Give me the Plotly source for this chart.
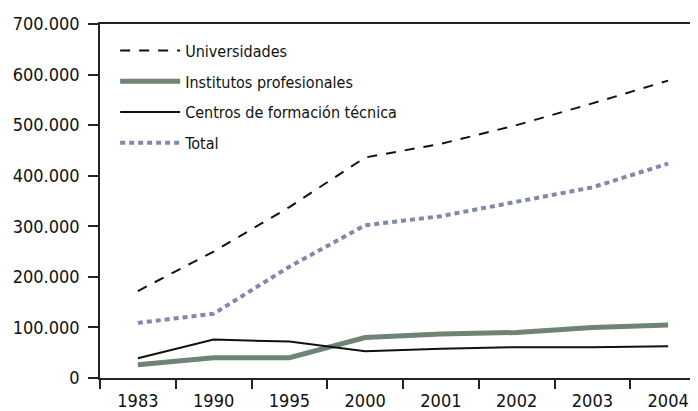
import plotly.graph_objects as go

years = ["1983", "1990", "1995", "2000", "2001", "2002", "2003", "2004"]
universidades = [172000, 250000, 338000, 436000, 463000, 500000, 543000, 588000]
institutos = [26000, 40000, 40000, 80000, 87000, 90000, 100000, 105000]
centros = [39000, 76000, 72000, 53000, 58000, 61000, 61000, 63000]
total = [109000, 127000, 220000, 302000, 320000, 348000, 377000, 424000]

y_ticks = [0, 100000, 200000, 300000, 400000, 500000, 600000, 700000]
y_labels = ["0", "100.000", "200.000", "300.000", "400.000", "500.000", "600.000", "700.000"]

FONT = "DejaVu Sans Condensed, Roboto Condensed, Liberation Sans Narrow, sans-serif"

fig = go.Figure()
fig.add_trace(go.Scatter(x=years, y=universidades, mode="lines", name="Universidades",
                         line=dict(color="#111111", width=2, dash="10px,9px"),
                         legendgroup="a"))
fig.add_trace(go.Scatter(x=years, y=institutos, mode="lines", name="Institutos profesionales",
                         line=dict(color="#6e8474", width=5), legendgroup="b"))
fig.add_trace(go.Scatter(x=years, y=centros, mode="lines", name="Centros de formación técnica",
                         line=dict(color="#111111", width=2), legendgroup="c"))
fig.add_trace(go.Scatter(x=years, y=total, mode="lines", name="Total",
                         line=dict(color="#8189aa", width=4, dash="5px,4px"), legendgroup="d"))

fig.update_layout(
    width=698, height=411,
    margin=dict(l=92, r=0, t=16, b=41),
    paper_bgcolor="white", plot_bgcolor="white",
    font=dict(family=FONT, size=16, color="#111111"),
    showlegend=True,
    legend=dict(x=0.025, y=0.973, xanchor="left", yanchor="top",
                font=dict(family=FONT, size=16, color="#111111"),
                itemwidth=60,
                bgcolor="rgba(0,0,0,0)", tracegroupgap=7, traceorder="grouped"),
    xaxis=dict(type="category", range=[-0.5, 7.5], tickson="boundaries",
               showline=True, linecolor="#222222", linewidth=1.5, mirror=True,
               ticks="outside", ticklen=9, tickwidth=1.5, tickcolor="#222222",
               showgrid=False, zeroline=False, ticklabelstandoff=6,
               tickfont=dict(family=FONT, size=18, color="#111111")),
    yaxis=dict(range=[0, 700000], tickvals=y_ticks, ticktext=y_labels,
               showline=True, linecolor="#222222", linewidth=1.5,
               ticks="outside", ticklen=10, tickwidth=1.5, tickcolor="#222222",
               showgrid=False, zeroline=False, ticklabelstandoff=5,
               tickfont=dict(family=FONT, size=18, color="#111111")),
)

fig.write_html("out.html")
